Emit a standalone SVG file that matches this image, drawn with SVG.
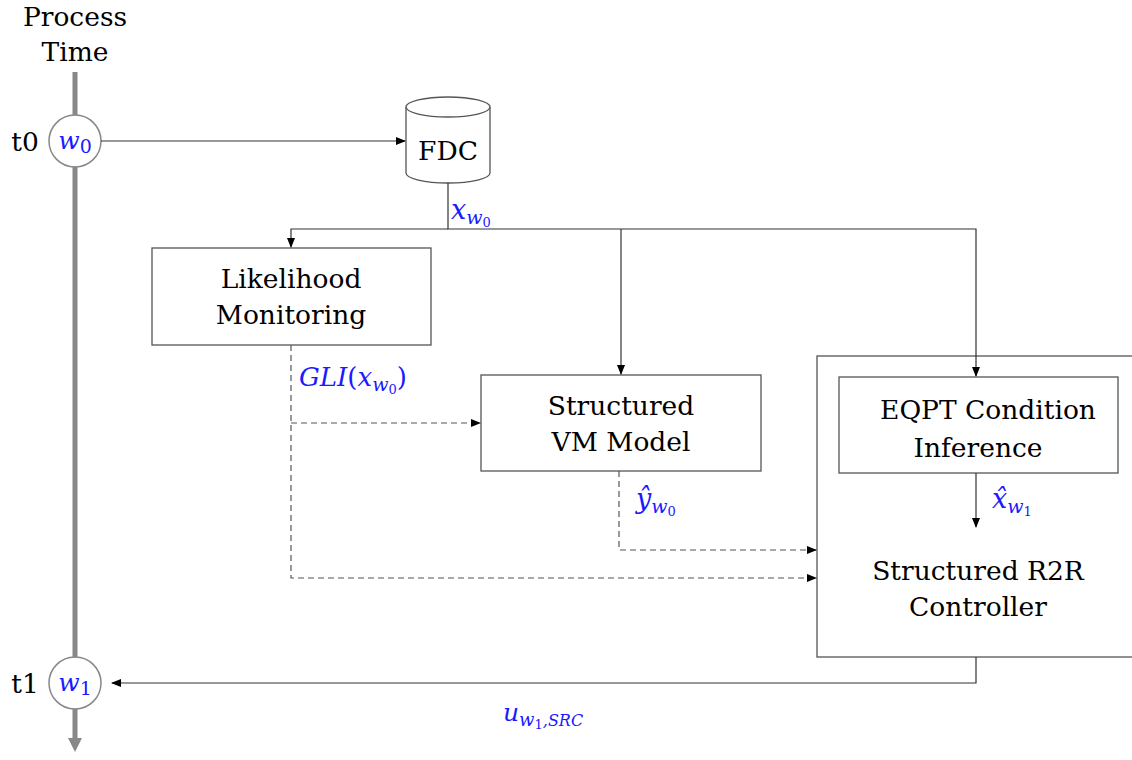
<svg xmlns="http://www.w3.org/2000/svg" width="1132" height="760" viewBox="0 0 1132 760">
<defs>
<marker id="ah" markerWidth="10" markerHeight="8" refX="9" refY="4" orient="auto" markerUnits="userSpaceOnUse"><path d="M0,0 L10,4 L0,8 Z" fill="#000"/></marker>
<marker id="gah" markerWidth="14" markerHeight="14" refX="7" refY="7" orient="auto" markerUnits="userSpaceOnUse"><path d="M0,0 L14,7 L0,14 Z" fill="#888"/></marker>
<style>
.box{fill:#fff;stroke:#555;stroke-width:1.3}
.lbl{font-family:"DejaVu Serif","Liberation Serif",serif;font-size:26.5px;fill:#000;text-anchor:middle}
.m{font-family:"DejaVu Serif","Liberation Serif",serif;font-style:italic;fill:#1a1aff}
.ln{fill:none;stroke:#333;stroke-width:1.2}
.dl{fill:none;stroke:#555;stroke-width:1.2;stroke-dasharray:6,4}
</style>
</defs>
<rect width="1132" height="760" fill="#fff"/>
<g id="timeline">
<text class="lbl" x="75" y="26" font-size="27">Process</text>
<text class="lbl" x="75" y="61" font-size="27">Time</text>
<line x1="75" y1="72" x2="75" y2="745" stroke="#888" stroke-width="5" marker-end="url(#gah)"/>
</g>
<g id="w0">
<circle cx="75" cy="141" r="26" fill="#fff" stroke="#888" stroke-width="1.5"/>
<text class="lbl" x="25" y="151" font-size="29" text-anchor="middle">t0</text>
<text class="m" x="75" y="149" font-size="25" text-anchor="middle">w<tspan font-style="normal" font-size="19" dy="4">0</tspan></text>
</g>
<g id="w1">
<circle cx="75" cy="683" r="26" fill="#fff" stroke="#888" stroke-width="1.5"/>
<text class="lbl" x="25" y="693" font-size="29" text-anchor="middle">t1</text>
<text class="m" x="75" y="691" font-size="25" text-anchor="middle">w<tspan font-style="normal" font-size="19" dy="4">1</tspan></text>
</g>
<g id="fdc">
<path d="M406,107 L406,173 A42,10 0 0 0 490,173 L490,107" class="box"/>
<ellipse cx="448" cy="107" rx="42" ry="10" class="box"/>
<text class="lbl" x="448" y="160" font-size="19">FDC</text>
</g>
<g id="likelihood">
<rect class="box" x="152" y="248" width="279" height="97"/>
<text class="lbl" x="291" y="288">Likelihood</text>
<text class="lbl" x="291" y="324">Monitoring</text>
</g>
<g id="vm">
<rect class="box" x="481" y="375" width="280" height="96"/>
<text class="lbl" x="621" y="415">Structured</text>
<text class="lbl" x="621" y="451">VM Model</text>
</g>
<g id="r2r">
<rect class="box" x="817" y="356" width="330" height="301"/>
<text class="lbl" x="978" y="580">Structured R2R</text>
<text class="lbl" x="978" y="616">Controller</text>
</g>
<g id="eqpt">
<rect class="box" x="839" y="377" width="279" height="96"/>
<text class="lbl" x="988" y="419">EQPT Condition</text>
<text class="lbl" x="978" y="457">Inference</text>
</g>
<g id="connectors">
<line class="ln" x1="101" y1="141" x2="405" y2="141" marker-end="url(#ah)"/>
<polyline class="ln" points="448,183 448,229 976,229 976,376" marker-end="url(#ah)"/>
<polyline class="ln" points="448,229 291,229 291,247" marker-end="url(#ah)"/>
<line class="ln" x1="621" y1="229" x2="621" y2="374" marker-end="url(#ah)"/>
<line class="ln" x1="976" y1="473" x2="976" y2="527" marker-end="url(#ah)"/>
<polyline class="dl" points="291,345 291,578 816,578" marker-end="url(#ah)"/>
<line class="dl" x1="291" y1="423" x2="480" y2="423" marker-end="url(#ah)"/>
<polyline class="dl" points="619,471 619,550 816,550" marker-end="url(#ah)"/>
<polyline class="ln" points="976,657 976,683 112,683" marker-end="url(#ah)"/>
<text class="m" x="451" y="219" font-size="27">x<tspan font-size="19" dy="5">w</tspan><tspan font-style="normal" font-size="13" dy="3">0</tspan></text>
<text class="m" x="299" y="386" font-size="26">GLI<tspan font-style="normal">(</tspan>x<tspan font-size="19" dy="5">w</tspan><tspan font-style="normal" font-size="13" dy="3">0</tspan><tspan font-style="normal" font-size="26" dy="-8">)</tspan></text>
<text class="m" x="636" y="508" font-size="27">ŷ<tspan font-size="19" dy="5">w</tspan><tspan font-style="normal" font-size="13" dy="3">0</tspan></text>
<text class="m" x="992" y="508" font-size="27">x̂<tspan font-size="19" dy="5">w</tspan><tspan font-style="normal" font-size="13" dy="3">1</tspan></text>
<text class="m" x="503" y="721" font-size="25">u<tspan font-size="18" dy="5">w</tspan><tspan font-style="normal" font-size="13" dy="3">1</tspan><tspan font-size="16" dy="-3">,SRC</tspan></text>
</g>
</svg>
